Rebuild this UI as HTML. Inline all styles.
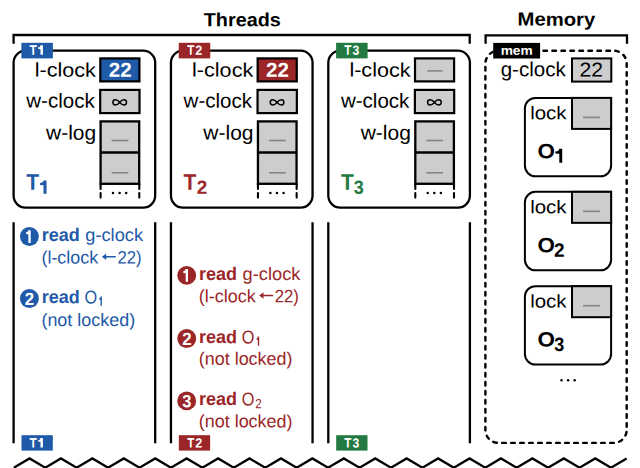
<!DOCTYPE html><html><head><meta charset="utf-8"><style>html,body{margin:0;padding:0;background:#fff;width:640px;height:468px;overflow:hidden}svg{display:block;font-family:"Liberation Sans",sans-serif;text-rendering:geometricPrecision}</style></head><body><svg width="640" height="468" viewBox="0 0 640 468"><path d="M13.6 43.7V35H469.7V43.7" fill="none" stroke="#000" stroke-width="2.3"/>
<path d="M485.6 43.7V35.3H627V43.7" fill="none" stroke="#000" stroke-width="2.3"/>
<g transform="translate(0.00,0)">
<rect x="13.6" y="50.7" width="141.6" height="156.9" rx="12" fill="none" stroke="#000" stroke-width="2.3"/>
<rect x="21.4" y="42.8" width="31.5" height="15.6" fill="#1f5aa8"/>
<rect x="100.3" y="58.4" width="39.1" height="23" fill="#1f5aa8" stroke="#000" stroke-width="2.2"/>
<rect x="100.2" y="89.9" width="39.3" height="23.2" fill="#cdcdcd" stroke="#000" stroke-width="2.2"/>
<path d="M119.7 102.35C117 98.9 112.9 98.9 112.9 102.35C112.9 105.8 117 105.8 119.7 102.35C122.4 98.9 126.5 98.9 126.5 102.35C126.5 105.8 122.4 105.8 119.7 102.35Z" fill="none" stroke="#000" stroke-width="1.5"/>
<rect x="100.6" y="121.4" width="38.6" height="62.4" fill="#cdcdcd" stroke="#000" stroke-width="2.3"/>
<line x1="100.6" y1="152.5" x2="139.2" y2="152.5" stroke="#000" stroke-width="2.3"/>
<line x1="111.6" y1="140.5" x2="128.4" y2="140.5" stroke="#858585" stroke-width="1.6"/>
<line x1="111.6" y1="172.8" x2="128.4" y2="172.8" stroke="#858585" stroke-width="1.6"/>
<path d="M100.6 183.8V189M100.6 193V197.6M139.3 183.8V189M139.3 193V197.6" stroke="#000" stroke-width="2.1" stroke-linecap="round"/>
<circle cx="113" cy="193" r="1.25" fill="#000"/>
<circle cx="119.6" cy="193" r="1.25" fill="#000"/>
<circle cx="126.2" cy="193" r="1.25" fill="#000"/>
<path d="M13.6 222.3V443.3M155.2 222.3V443.3" stroke="#000" stroke-width="2.3"/>
<rect x="21.5" y="435.2" width="31.3" height="15.4" fill="#1f5aa8"/>
</g>
<path d="M40.50 45.20H42.90V54.80H40.50V49.20Q39.30 48.80 38.10 48.80V47.60Q40.30 47.40 40.50 45.20Z" fill="#fff"/>
<path d="M40.50 437.90H42.90V447.50H40.50V441.90Q39.30 441.50 38.10 441.50V440.30Q40.30 440.10 40.50 437.90Z" fill="#fff"/>
<path d="M43.50 180.50H46.55V193.70H43.50V185.30Q41.77 184.90 40.05 184.90V183.10Q43.30 182.90 43.50 180.50Z" fill="#1f5aa8"/>
<g transform="translate(157.35,0)">
<rect x="13.6" y="50.7" width="141.6" height="156.9" rx="12" fill="none" stroke="#000" stroke-width="2.3"/>
<rect x="21.4" y="42.8" width="31.5" height="15.6" fill="#9b2628"/>
<rect x="100.3" y="58.4" width="39.1" height="23" fill="#9b2628" stroke="#000" stroke-width="2.2"/>
<rect x="100.2" y="89.9" width="39.3" height="23.2" fill="#cdcdcd" stroke="#000" stroke-width="2.2"/>
<path d="M119.7 102.35C117 98.9 112.9 98.9 112.9 102.35C112.9 105.8 117 105.8 119.7 102.35C122.4 98.9 126.5 98.9 126.5 102.35C126.5 105.8 122.4 105.8 119.7 102.35Z" fill="none" stroke="#000" stroke-width="1.5"/>
<rect x="100.6" y="121.4" width="38.6" height="62.4" fill="#cdcdcd" stroke="#000" stroke-width="2.3"/>
<line x1="100.6" y1="152.5" x2="139.2" y2="152.5" stroke="#000" stroke-width="2.3"/>
<line x1="111.6" y1="140.5" x2="128.4" y2="140.5" stroke="#858585" stroke-width="1.6"/>
<line x1="111.6" y1="172.8" x2="128.4" y2="172.8" stroke="#858585" stroke-width="1.6"/>
<path d="M100.6 183.8V189M100.6 193V197.6M139.3 183.8V189M139.3 193V197.6" stroke="#000" stroke-width="2.1" stroke-linecap="round"/>
<circle cx="113" cy="193" r="1.25" fill="#000"/>
<circle cx="119.6" cy="193" r="1.25" fill="#000"/>
<circle cx="126.2" cy="193" r="1.25" fill="#000"/>
<path d="M13.6 222.3V443.3M155.2 222.3V443.3" stroke="#000" stroke-width="2.3"/>
<rect x="21.5" y="435.2" width="31.3" height="15.4" fill="#9b2628"/>
</g>
<g transform="translate(314.70,0)">
<rect x="13.6" y="50.7" width="141.6" height="156.9" rx="12" fill="none" stroke="#000" stroke-width="2.3"/>
<rect x="21.4" y="42.8" width="31.5" height="15.6" fill="#227a42"/>
<rect x="100.3" y="58.4" width="39.1" height="23" fill="#cdcdcd" stroke="#000" stroke-width="2.2"/>
<line x1="112.6" y1="70.9" x2="127.6" y2="70.9" stroke="#858585" stroke-width="1.6"/>
<rect x="100.2" y="89.9" width="39.3" height="23.2" fill="#cdcdcd" stroke="#000" stroke-width="2.2"/>
<path d="M119.7 102.35C117 98.9 112.9 98.9 112.9 102.35C112.9 105.8 117 105.8 119.7 102.35C122.4 98.9 126.5 98.9 126.5 102.35C126.5 105.8 122.4 105.8 119.7 102.35Z" fill="none" stroke="#000" stroke-width="1.5"/>
<rect x="100.6" y="121.4" width="38.6" height="62.4" fill="#cdcdcd" stroke="#000" stroke-width="2.3"/>
<line x1="100.6" y1="152.5" x2="139.2" y2="152.5" stroke="#000" stroke-width="2.3"/>
<line x1="111.6" y1="140.5" x2="128.4" y2="140.5" stroke="#858585" stroke-width="1.6"/>
<line x1="111.6" y1="172.8" x2="128.4" y2="172.8" stroke="#858585" stroke-width="1.6"/>
<path d="M100.6 183.8V189M100.6 193V197.6M139.3 183.8V189M139.3 193V197.6" stroke="#000" stroke-width="2.1" stroke-linecap="round"/>
<circle cx="113" cy="193" r="1.25" fill="#000"/>
<circle cx="119.6" cy="193" r="1.25" fill="#000"/>
<circle cx="126.2" cy="193" r="1.25" fill="#000"/>
<path d="M13.6 222.3V443.3M155.2 222.3V443.3" stroke="#000" stroke-width="2.3"/>
<rect x="21.5" y="435.2" width="31.3" height="15.4" fill="#227a42"/>
</g>
<circle cx="29.40" cy="236.5" r="9.45" fill="#1f5aa8"/>
<path d="M28.40 230.20H30.70V242.95H28.40V234.40Q27.20 234.00 26.00 234.00V232.40Q28.20 232.20 28.40 230.20Z" fill="#fff"/>
<path d="M101.90 256.8L106.20 253.6V256.0H115.70V257.6H106.20V260.0Z" fill="#1f5aa8"/>
<circle cx="29.40" cy="298.5" r="9.45" fill="#1f5aa8"/>
<path d="M100.55 296.60H101.90V305.80H100.55V300.00Q99.88 299.60 99.20 299.60V298.60Q100.35 298.40 100.55 296.60Z" fill="#1f5aa8"/>
<circle cx="186.70" cy="275.4" r="9.45" fill="#9b2628"/>
<path d="M185.70 269.10H188.00V281.85H185.70V273.30Q184.50 272.90 183.30 272.90V271.30Q185.50 271.10 185.70 269.10Z" fill="#fff"/>
<path d="M259.20 295.5L263.50 292.3V294.7H273.00V296.3H263.50V298.7Z" fill="#9b2628"/>
<circle cx="186.70" cy="338.5" r="9.45" fill="#9b2628"/>
<path d="M257.85 336.60H259.20V345.80H257.85V340.00Q257.18 339.60 256.50 339.60V338.60Q257.65 338.40 257.85 336.60Z" fill="#9b2628"/>
<circle cx="186.70" cy="400.9" r="9.45" fill="#9b2628"/>
<rect x="485.4" y="50.7" width="141.3" height="392.2" rx="13" fill="none" stroke="#000" stroke-width="2.4" stroke-dasharray="3.6 5.4" stroke-linecap="round"/>
<rect x="493.2" y="42.9" width="46.9" height="15.6" fill="#000"/>
<rect x="572" y="58.4" width="39.3" height="23.2" fill="#cdcdcd" stroke="#000" stroke-width="2"/>
<path d="M524.9 108.4A10.5 10.5 0 0 1 535.4 97.9H611.1V165.8A10.5 10.5 0 0 1 600.6 176.3H535.4A10.5 10.5 0 0 1 524.9 165.8Z" fill="#fff" stroke="#000" stroke-width="2"/>
<rect x="572" y="97.9" width="39.10" height="31" fill="#cdcdcd" stroke="#000" stroke-width="2"/>
<line x1="583" y1="117.40" x2="600" y2="117.40" stroke="#858585" stroke-width="1.6"/>
<path d="M559.30 148.80H562.20V162.70H559.30V153.80Q557.35 153.40 555.40 153.40V151.50Q559.10 151.30 559.30 148.80Z" fill="#000"/>
<path d="M524.9 202.35A10.5 10.5 0 0 1 535.4 191.85H611.1V259.75A10.5 10.5 0 0 1 600.6 270.25H535.4A10.5 10.5 0 0 1 524.9 259.75Z" fill="#fff" stroke="#000" stroke-width="2"/>
<rect x="572" y="191.85" width="39.10" height="31" fill="#cdcdcd" stroke="#000" stroke-width="2"/>
<line x1="583" y1="211.35" x2="600" y2="211.35" stroke="#858585" stroke-width="1.6"/>
<path d="M524.9 296.7A10.5 10.5 0 0 1 535.4 286.2H611.1V354.1A10.5 10.5 0 0 1 600.6 364.6H535.4A10.5 10.5 0 0 1 524.9 354.1Z" fill="#fff" stroke="#000" stroke-width="2"/>
<rect x="572" y="286.2" width="39.10" height="31" fill="#cdcdcd" stroke="#000" stroke-width="2"/>
<line x1="583" y1="305.70" x2="600" y2="305.70" stroke="#858585" stroke-width="1.6"/>
<circle cx="561.5" cy="380.3" r="1.2" fill="#000"/>
<circle cx="568.1" cy="380.3" r="1.2" fill="#000"/>
<circle cx="574.7" cy="380.3" r="1.2" fill="#000"/>
<polyline points="13.80,467.7 29.52,458.4 45.23,467.7 60.95,458.4 76.66,467.7 92.38,458.4 108.09,467.7 123.81,458.4 139.52,467.7 155.24,458.4 170.95,467.7 186.67,458.4 202.38,467.7 218.10,458.4 233.81,467.7 249.53,458.4 265.24,467.7 280.95,458.4 296.67,467.7 312.38,458.4 328.10,467.7 343.81,458.4 359.53,467.7 375.24,458.4 390.96,467.7 406.67,458.4 422.39,467.7 438.10,458.4 453.82,467.7 469.53,458.4 485.25,467.7 500.96,458.4 516.68,467.7 532.39,458.4 548.11,467.7 563.82,458.4 579.54,467.7 595.25,458.4 610.97,467.7 626.68,458.4" fill="none" stroke="#000" stroke-width="2.3" stroke-linejoin="miter"/>
<text transform="matrix(1.0167 0.001 0 0.9753 203.75 26.20)" font-size="19.5" font-weight="bold" fill="#000">Threads</text>
<text transform="matrix(1.0403 0.001 0 0.9627 517.50 25.60)" font-size="19.5" font-weight="bold" fill="#000">Memory</text>
<text transform="matrix(0.8848 0.001 0 1.0109 29.50 54.80)" font-size="13.5" font-weight="bold" fill="#fff">T</text>
<text transform="matrix(0.8848 0.001 0 1.0109 29.50 447.50)" font-size="13.5" font-weight="bold" fill="#fff">T</text>
<text transform="matrix(1.0537 0.001 0 0.9562 34.68 76.60)" font-size="20.5" font-weight="normal" fill="#000">l-clock</text>
<text transform="matrix(1.0022 0.001 0 1.0000 26.20 107.60)" font-size="20.5" font-weight="normal" fill="#000">w-clock</text>
<text transform="matrix(1.0241 0.001 0 1.0000 46.00 139.60)" font-size="20.5" font-weight="normal" fill="#000">w-log</text>
<text transform="matrix(1.0289 0.001 0 1.0000 108.73 76.70)" font-size="20" font-weight="bold" fill="#fff">22</text>
<text transform="matrix(0.9538 0.001 0 1.0268 26.26 189.70)" font-size="22" font-weight="bold" fill="#1f5aa8">T</text>
<text transform="matrix(0.8606 0.001 0 1.0109 187.30 54.80)" font-size="13.5" font-weight="bold" fill="#fff">T</text>
<text transform="matrix(0.9385 0.001 0 0.9841 195.23 54.80)" font-size="13.5" font-weight="bold" fill="#fff">2</text>
<text transform="matrix(0.8606 0.001 0 1.0109 187.30 447.50)" font-size="13.5" font-weight="bold" fill="#fff">T</text>
<text transform="matrix(0.9385 0.001 0 0.9841 195.23 447.50)" font-size="13.5" font-weight="bold" fill="#fff">2</text>
<text transform="matrix(1.0537 0.001 0 0.9562 192.03 76.60)" font-size="20.5" font-weight="normal" fill="#000">l-clock</text>
<text transform="matrix(1.0022 0.001 0 1.0000 183.55 107.60)" font-size="20.5" font-weight="normal" fill="#000">w-clock</text>
<text transform="matrix(1.0241 0.001 0 1.0000 203.35 139.60)" font-size="20.5" font-weight="normal" fill="#000">w-log</text>
<text transform="matrix(1.0289 0.001 0 1.0000 266.08 76.70)" font-size="20" font-weight="bold" fill="#fff">22</text>
<text transform="matrix(0.9538 0.001 0 1.0268 183.61 189.70)" font-size="22" font-weight="bold" fill="#9b2628">T</text>
<text transform="matrix(0.9944 0.001 0 0.9925 196.70 193.80)" font-size="19" font-weight="bold" fill="#9b2628">2</text>
<text transform="matrix(0.8606 0.001 0 1.0109 344.30 54.80)" font-size="13.5" font-weight="bold" fill="#fff">T</text>
<text transform="matrix(0.9037 0.001 0 0.9841 352.47 54.80)" font-size="13.5" font-weight="bold" fill="#fff">3</text>
<text transform="matrix(0.8606 0.001 0 1.0109 344.30 447.50)" font-size="13.5" font-weight="bold" fill="#fff">T</text>
<text transform="matrix(0.9037 0.001 0 0.9841 352.47 447.50)" font-size="13.5" font-weight="bold" fill="#fff">3</text>
<text transform="matrix(1.0537 0.001 0 0.9562 349.38 76.60)" font-size="20.5" font-weight="normal" fill="#000">l-clock</text>
<text transform="matrix(1.0022 0.001 0 1.0000 340.90 107.60)" font-size="20.5" font-weight="normal" fill="#000">w-clock</text>
<text transform="matrix(1.0241 0.001 0 1.0000 360.70 139.60)" font-size="20.5" font-weight="normal" fill="#000">w-log</text>
<text transform="matrix(0.9538 0.001 0 1.0268 340.96 189.70)" font-size="22" font-weight="bold" fill="#227a42">T</text>
<text transform="matrix(0.9474 0.001 0 0.9925 353.83 193.80)" font-size="19" font-weight="bold" fill="#227a42">3</text>
<text transform="matrix(0.9712 0.001 0 0.9888 41.69 241.00)" font-size="18.5" font-weight="bold" fill="#1f5aa8">read</text>
<text transform="matrix(1.0151 0.001 0 1.0000 85.24 241.00)" font-size="18" font-weight="normal" fill="#1f5aa8">g-clock</text>
<text transform="matrix(0.9991 0.001 0 1.0000 41.40 263.50)" font-size="18" font-weight="normal" fill="#1f5aa8">(l-clock</text>
<text transform="matrix(0.9292 0.001 0 1.0000 117.47 263.50)" font-size="18" font-weight="normal" fill="#1f5aa8">22)</text>
<text transform="matrix(0.9371 0.001 0 0.9805 24.83 304.95)" font-size="18" font-weight="bold" fill="#fff">2</text>
<text transform="matrix(0.9712 0.001 0 0.9888 41.69 303.10)" font-size="18.5" font-weight="bold" fill="#1f5aa8">read</text>
<text transform="matrix(0.9040 0.001 0 1.0350 84.52 303.60)" font-size="18" font-weight="normal" fill="#1f5aa8">O</text>
<text transform="matrix(0.9978 0.001 0 1.0000 41.40 326.00)" font-size="18" font-weight="normal" fill="#1f5aa8">(not locked)</text>
<text transform="matrix(0.9712 0.001 0 0.9888 198.99 279.90)" font-size="18.5" font-weight="bold" fill="#9b2628">read</text>
<text transform="matrix(1.0151 0.001 0 1.0000 242.54 279.90)" font-size="18" font-weight="normal" fill="#9b2628">g-clock</text>
<text transform="matrix(0.9991 0.001 0 1.0000 198.70 302.20)" font-size="18" font-weight="normal" fill="#9b2628">(l-clock</text>
<text transform="matrix(0.9292 0.001 0 1.0000 274.77 302.20)" font-size="18" font-weight="normal" fill="#9b2628">22)</text>
<text transform="matrix(0.9371 0.001 0 0.9805 182.13 344.95)" font-size="18" font-weight="bold" fill="#fff">2</text>
<text transform="matrix(0.9712 0.001 0 0.9888 198.99 343.10)" font-size="18.5" font-weight="bold" fill="#9b2628">read</text>
<text transform="matrix(0.9040 0.001 0 1.0350 241.82 343.60)" font-size="18" font-weight="normal" fill="#9b2628">O</text>
<text transform="matrix(0.9978 0.001 0 1.0000 198.70 364.70)" font-size="18" font-weight="normal" fill="#9b2628">(not locked)</text>
<text transform="matrix(0.9111 0.001 0 0.9805 182.14 407.35)" font-size="18" font-weight="bold" fill="#fff">3</text>
<text transform="matrix(0.9712 0.001 0 0.9888 198.99 405.00)" font-size="18.5" font-weight="bold" fill="#9b2628">read</text>
<text transform="matrix(0.9040 0.001 0 1.0350 241.82 405.50)" font-size="18" font-weight="normal" fill="#9b2628">O</text>
<text transform="matrix(0.9000 0.001 0 1.0267 255.15 408.30)" font-size="13" font-weight="normal" fill="#9b2628">2</text>
<text transform="matrix(0.9978 0.001 0 1.0000 198.70 427.30)" font-size="18" font-weight="normal" fill="#9b2628">(not locked)</text>
<text transform="matrix(1.0167 0.001 0 0.9444 500.64 54.80)" font-size="13.5" font-weight="bold" fill="#fff">mem</text>
<text transform="matrix(1.0031 0.001 0 1.0000 500.65 76.30)" font-size="20.5" font-weight="normal" fill="#000">g-clock</text>
<text transform="matrix(1.0439 0.001 0 0.9819 579.56 76.50)" font-size="20.3" font-weight="normal" fill="#000">22</text>
<text transform="matrix(1.0769 0.001 0 0.9710 530.15 119.30)" font-size="19" font-weight="normal" fill="#000">lock</text>
<text transform="matrix(1.1214 0.001 0 1.0357 537.56 158.30)" font-size="20" font-weight="bold" fill="#000">O</text>
<text transform="matrix(1.0769 0.001 0 0.9710 530.15 213.25)" font-size="19" font-weight="normal" fill="#000">lock</text>
<text transform="matrix(1.1214 0.001 0 1.0357 537.56 252.25)" font-size="20" font-weight="bold" fill="#000">O</text>
<text transform="matrix(0.9730 0.001 0 0.9890 554.07 256.75)" font-size="19.5" font-weight="bold" fill="#000">2</text>
<text transform="matrix(1.0769 0.001 0 0.9710 530.15 307.60)" font-size="19" font-weight="normal" fill="#000">lock</text>
<text transform="matrix(1.1214 0.001 0 1.0357 537.56 346.60)" font-size="20" font-weight="bold" fill="#000">O</text>
<text transform="matrix(0.9231 0.001 0 0.9890 554.34 351.10)" font-size="19.5" font-weight="bold" fill="#000">3</text></svg></body></html>
